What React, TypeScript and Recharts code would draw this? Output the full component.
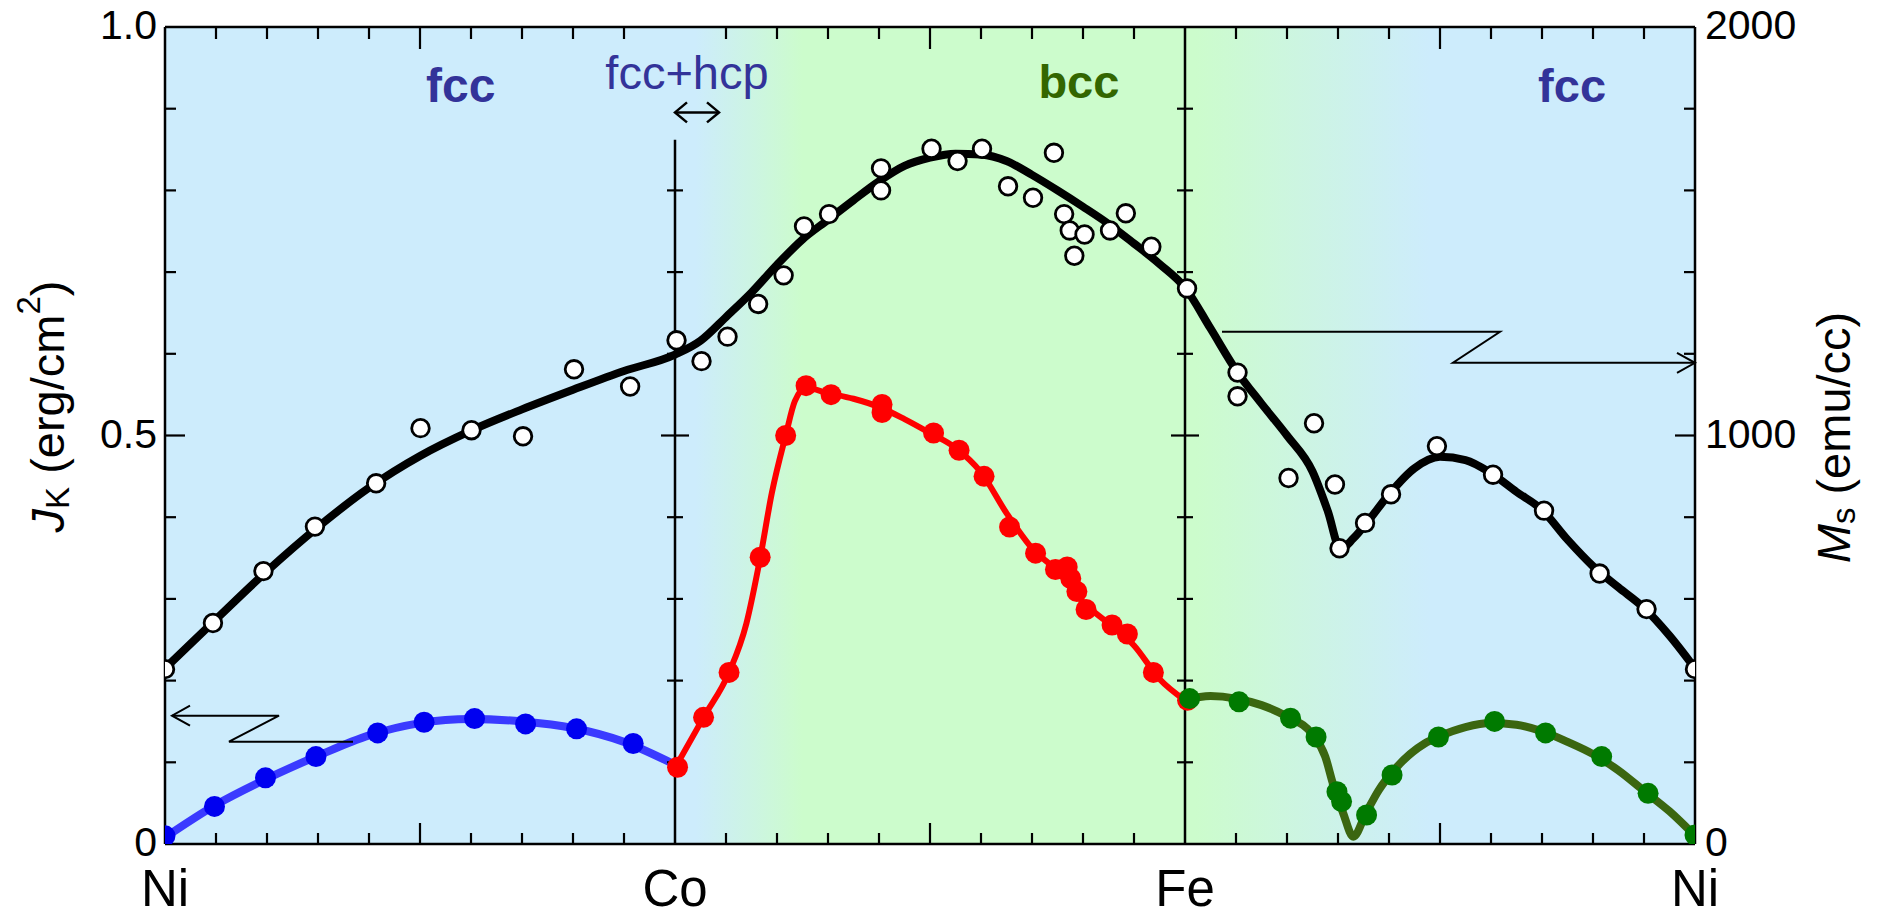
import React from "react";
import {
  ComposedChart,
  Line,
  Scatter,
  XAxis,
  YAxis,
  ReferenceArea,
  ReferenceLine,
  ReferenceDot,
} from "recharts";

const FONT = "'Liberation Sans', Arial, Helvetica, sans-serif";
const BG_BLUE = "#cdecfc";
const BG_GREEN = "#ccfccc";

// composition axis: 0 = Ni, 1 = Co, 2 = Fe, 3 = Ni
const compTicks = [
  0, 0.1, 0.2, 0.3, 0.4, 0.5, 0.6, 0.7, 0.8, 0.9,
  1, 1.1, 1.2, 1.3, 1.4, 1.5, 1.6, 1.7, 1.8, 1.9,
  2, 2.1, 2.2, 2.3, 2.4, 2.5, 2.6, 2.7, 2.8, 2.9, 3,
];
const compLabels = ["Ni", "Co", "Fe", "Ni"];
const jTicks = [0, 0.1, 0.2, 0.3, 0.4, 0.5, 0.6, 0.7, 0.8, 0.9, 1];
const jLabels = ["0", "0.5", "1.0"];
const msTicks = [0, 200, 400, 600, 800, 1000, 1200, 1400, 1600, 1800, 2000];
const msLabels = ["0", "1000", "2000"];
const coCross = [0.1, 0.2, 0.3, 0.4, 0.5, 0.6, 0.7, 0.8];
const feCross = [0.1, 0.2, 0.3, 0.4, 0.5, 0.6, 0.7, 0.8, 0.9];

// Ms (emu/cc), open circles
const msPoints = [
  [0, 428], [0.094, 541], [0.193, 668], [0.294, 777], [0.414, 883], [0.501, 1018],
  [0.601, 1013], [0.702, 998], [0.802, 1162], [0.912, 1120], [1.003, 1233],
  [1.052, 1182], [1.103, 1242], [1.163, 1322], [1.213, 1392], [1.253, 1512],
  [1.302, 1542], [1.404, 1600], [1.404, 1654], [1.503, 1702], [1.554, 1672],
  [1.602, 1702], [1.653, 1610], [1.702, 1582], [1.743, 1692], [1.763, 1542],
  [1.774, 1502], [1.783, 1440], [1.803, 1492], [1.853, 1502], [1.884, 1544],
  [1.934, 1462], [2.004, 1360],
  [2.103, 1154], [2.103, 1096], [2.203, 896], [2.253, 1030], [2.294, 880],
  [2.303, 724], [2.353, 786], [2.404, 856], [2.494, 974], [2.604, 904],
  [2.704, 816], [2.813, 662], [2.905, 575], [3, 428],
];
// Ms guide curve
const msFit = [
  [0, 430], [0.1, 550], [0.2, 668], [0.3, 776], [0.4, 872], [0.5, 950], [0.6, 1012],
  [0.7, 1064], [0.8, 1112], [0.9, 1158], [1, 1198],
  [1.05, 1232], [1.1, 1290], [1.15, 1350], [1.2, 1418], [1.25, 1480], [1.3, 1528],
  [1.35, 1576], [1.4, 1622], [1.45, 1660], [1.5, 1680], [1.55, 1690], [1.6, 1688],
  [1.65, 1672], [1.7, 1638], [1.75, 1600], [1.8, 1560], [1.85, 1518], [1.9, 1470],
  [1.95, 1420], [2, 1362],
  [2.05, 1262], [2.1, 1160], [2.15, 1078], [2.2, 1000], [2.25, 912], [2.28, 815],
  [2.305, 722], [2.33, 748], [2.36, 792], [2.4, 856], [2.45, 920], [2.5, 948],
  [2.55, 940], [2.6, 908], [2.65, 862], [2.7, 818], [2.75, 745], [2.8, 680],
  [2.85, 628], [2.9, 578], [2.95, 510], [3, 430],
];

// JK (erg/cm2), Ni-Co fcc
const jkNiCo = [
  [0, 0.01], [0.097, 0.046], [0.197, 0.081], [0.296, 0.107], [0.417, 0.136],
  [0.508, 0.149], [0.607, 0.1535], [0.707, 0.147], [0.807, 0.141], [0.918, 0.123],
];
const jkNiCoFit = [
  [0, 0.008], [0.1, 0.048], [0.2, 0.08], [0.3, 0.108], [0.4, 0.133], [0.5, 0.148],
  [0.6, 0.153], [0.7, 0.15], [0.8, 0.142], [0.9, 0.125], [1, 0.097],
];
// Co-Fe
const jkCoFe = [
  [1.005, 0.094], [1.056, 0.155], [1.106, 0.21], [1.167, 0.351], [1.217, 0.5],
  [1.257, 0.561], [1.306, 0.55], [1.406, 0.538], [1.406, 0.528], [1.507, 0.503],
  [1.557, 0.482], [1.606, 0.45], [1.656, 0.388], [1.707, 0.356], [1.746, 0.336],
  [1.769, 0.339], [1.776, 0.325], [1.788, 0.309], [1.806, 0.287], [1.857, 0.268],
  [1.887, 0.257], [1.938, 0.21], [2.005, 0.176],
];
const jkCoFeFit = [
  [1, 0.093], [1.056, 0.155], [1.106, 0.21], [1.14, 0.27], [1.167, 0.35],
  [1.19, 0.43], [1.217, 0.5], [1.235, 0.542], [1.257, 0.558], [1.3, 0.552],
  [1.35, 0.545], [1.4, 0.535], [1.45, 0.52], [1.5, 0.503], [1.55, 0.485],
  [1.6, 0.455], [1.65, 0.405], [1.7, 0.362], [1.75, 0.334], [1.8, 0.296],
  [1.85, 0.27], [1.9, 0.243], [1.95, 0.202], [2, 0.176],
];
// Fe-Ni
const jkFeNi = [
  [2.009, 0.178], [2.106, 0.174], [2.207, 0.154], [2.257, 0.131], [2.298, 0.064],
  [2.307, 0.052], [2.356, 0.0355], [2.406, 0.0845], [2.497, 0.131], [2.607, 0.15],
  [2.707, 0.136], [2.817, 0.107], [2.908, 0.062], [3, 0.011],
];
const jkFeNiFit = [
  [2, 0.176], [2.05, 0.181], [2.1, 0.178], [2.15, 0.17], [2.2, 0.156], [2.25, 0.134],
  [2.275, 0.107], [2.29, 0.074], [2.31, 0.038], [2.33, 0.009], [2.355, 0.038],
  [2.38, 0.066], [2.415, 0.094], [2.47, 0.123], [2.5, 0.132], [2.55, 0.143],
  [2.6, 0.148], [2.65, 0.146], [2.7, 0.138], [2.75, 0.125], [2.8, 0.11],
  [2.85, 0.09], [2.9, 0.065], [2.95, 0.04], [3, 0.01],
];

const rows = (a: number[][]) => a.map(([x, v]) => ({ x, v }));

const tenths = (v: number) => Math.round(v * 10);

const BottomTick = (p: any) => {
  const i = tenths(p.payload.value);
  if (i % 10 === 0) {
    return (
      <text x={p.x} y={p.y + 62} textAnchor="middle" fontSize={51} fontFamily={FONT} fill="#000">
        {compLabels[i / 10]}
      </text>
    );
  }
  const len = i % 5 === 0 ? 21 : 11;
  return <line x1={p.x} x2={p.x} y1={p.y} y2={p.y - len} stroke="#000" strokeWidth={2.2} />;
};

const TopTick = (p: any) => {
  const i = tenths(p.payload.value);
  if (i % 10 === 0) return <g />;
  const len = i % 5 === 0 ? 22 : 12;
  return <line x1={p.x} x2={p.x} y1={p.y} y2={p.y + len} stroke="#000" strokeWidth={2.2} />;
};

const LeftTick = (p: any) => {
  const i = tenths(p.payload.value);
  const len = i % 5 === 0 ? 20 : 11;
  const lbl = i % 5 === 0 ? jLabels[i / 5] : null;
  return (
    <g>
      {i > 0 && i < 10 && (
        <line x1={p.x} x2={p.x + len} y1={p.y} y2={p.y} stroke="#000" strokeWidth={2.2} />
      )}
      {lbl && (
        <text x={p.x - 8} y={p.y - 2} textAnchor="end" dominantBaseline="central" fontSize={41} fontFamily={FONT} fill="#000">
          {lbl}
        </text>
      )}
    </g>
  );
};

const RightTick = (p: any) => {
  const i = Math.round(p.payload.value / 200);
  const len = i % 5 === 0 ? 20 : 11;
  const lbl = i % 5 === 0 ? msLabels[i / 5] : null;
  return (
    <g>
      {i > 0 && i < 10 && (
        <line x1={p.x} x2={p.x - len} y1={p.y} y2={p.y} stroke="#000" strokeWidth={2.2} />
      )}
      {lbl && (
        <text x={p.x + 10} y={p.y - 2} textAnchor="start" dominantBaseline="central" fontSize={41} fontFamily={FONT} fill="#000">
          {lbl}
        </text>
      )}
    </g>
  );
};

const crossTick = (half: boolean) => (p: any) => {
  const len = half ? 14 : 8;
  return <line x1={p.cx - len} x2={p.cx + len} y1={p.cy} y2={p.cy} stroke="#000" strokeWidth={2.2} />;
};

const label = (txt: string, size: number, color: string, bold: boolean) => (p: any) => (
  <text x={p.cx} y={p.cy} textAnchor="middle" fontSize={size} fontWeight={bold ? "bold" : "normal"} fontFamily={FONT} fill={color}>
    {txt}
  </text>
);

const doubleArrow = (p: any) => {
  const { cx, cy } = p;
  const w = 44;
  return (
    <g stroke="#000" strokeWidth={2.5} fill="none">
      <line x1={cx} x2={cx + w} y1={cy} y2={cy} />
      <polyline points={`${cx + 12},${cy - 10} ${cx},${cy} ${cx + 12},${cy + 10}`} />
      <polyline points={`${cx + w - 12},${cy - 10} ${cx + w},${cy} ${cx + w - 12},${cy + 10}`} />
    </g>
  );
};

// zig-zag pointer to the left axis, anchored at the axis
const leftPointer = (p: any) => {
  const { cx, cy } = p;
  return (
    <g stroke="#000" strokeWidth={2} fill="none">
      <polyline points={`${cx + 7},${cy} ${cx + 114},${cy} ${cx + 64},${cy + 26} ${cx + 188},${cy + 26}`} />
      <polyline points={`${cx + 25},${cy - 10} ${cx + 7},${cy} ${cx + 25},${cy + 10}`} />
    </g>
  );
};

// zig-zag pointer to the right axis, anchored at the axis
const rightPointer = (p: any) => {
  const { cx, cy } = p;
  return (
    <g stroke="#000" strokeWidth={2} fill="none">
      <polyline points={`${cx - 473},${cy - 31} ${cx - 195},${cy - 31} ${cx - 242},${cy} ${cx},${cy}`} />
      <polyline points={`${cx - 18},${cy - 10} ${cx},${cy} ${cx - 18},${cy + 10}`} />
    </g>
  );
};

const openCircle = (p: any) => (
  <circle cx={p.cx} cy={p.cy} r={8.8} fill="#fff" stroke="#000" strokeWidth={2.8} />
);
const filled = (color: string) => (p: any) => (
  <circle cx={p.cx} cy={p.cy} r={10.5} fill={color} stroke="none" />
);

const leftTitle = (lp: any) => {
  const vb = lp.viewBox;
  const cx = vb.x + vb.width - 118;
  const cy = vb.y + vb.height / 2 - 29;
  return (
    <text transform={`translate(${cx},${cy}) rotate(-90)`} textAnchor="middle" dominantBaseline="central" fontSize={47} fontFamily={FONT} fill="#000">
      <tspan fontStyle="italic">J</tspan>
      <tspan fontSize={33} dy={10}>K</tspan>
      <tspan dy={-10}>{" (erg/cm"}</tspan>
      <tspan fontSize={33} dy={-19}>2</tspan>
      <tspan dy={19}>)</tspan>
    </text>
  );
};

const rightTitle = (lp: any) => {
  const vb = lp.viewBox;
  const cx = vb.x + 138;
  const cy = vb.y + vb.height / 2 + 2;
  return (
    <text transform={`translate(${cx},${cy}) rotate(-90)`} textAnchor="middle" dominantBaseline="central" fontSize={47} fontFamily={FONT} fill="#000">
      <tspan fontStyle="italic">M</tspan>
      <tspan fontSize={33} dy={10}>s</tspan>
      <tspan dy={-10}>{" (emu/cc)"}</tspan>
    </text>
  );
};

export default function App() {
  return (
    <div style={{ position: "absolute", left: 0, top: 0, background: "#fff" }}>
      <ComposedChart width={1879} height={917} margin={{ top: 0, right: 0, bottom: 0, left: 0 }}>
        <defs>
          <linearGradient id="phaseBg" x1="0" y1="0" x2="1" y2="0">
            <stop offset={0} stopColor={BG_BLUE} />
            <stop offset={1.04 / 3} stopColor={BG_BLUE} />
            <stop offset={1.25 / 3} stopColor={BG_GREEN} />
            <stop offset={2.02 / 3} stopColor={BG_GREEN} />
            <stop offset={2.48 / 3} stopColor={BG_BLUE} />
            <stop offset={1} stopColor={BG_BLUE} />
          </linearGradient>
        </defs>
        <XAxis
          xAxisId="b" type="number" dataKey="x" domain={[0, 3]} allowDataOverflow
          ticks={compTicks} interval={0} height={73} tickSize={0} tickMargin={0}
          tickLine={false} tick={BottomTick} axisLine={{ stroke: "#000", strokeWidth: 2.5 }}
        />
        <XAxis
          xAxisId="t" orientation="top" type="number" dataKey="x" domain={[0, 3]} allowDataOverflow
          ticks={compTicks} interval={0} height={27} tickSize={0} tickMargin={0}
          tickLine={false} tick={TopTick} axisLine={{ stroke: "#000", strokeWidth: 2.5 }}
        />
        <YAxis
          yAxisId="j" type="number" domain={[0, 1]} allowDataOverflow ticks={jTicks} interval={0}
          width={165} tickSize={0} tickMargin={0} tickLine={false} tick={LeftTick}
          axisLine={{ stroke: "#000", strokeWidth: 2.5 }} label={{ content: leftTitle }}
        />
        <YAxis
          yAxisId="ms" orientation="right" type="number" domain={[0, 2000]} allowDataOverflow
          ticks={msTicks} interval={0} width={184} tickSize={0} tickMargin={0} tickLine={false}
          tick={RightTick} axisLine={{ stroke: "#000", strokeWidth: 2.5 }} label={{ content: rightTitle }}
        />

        <ReferenceArea xAxisId="b" yAxisId="j" x1={0} x2={3} y1={0} y2={1} fill="url(#phaseBg)" fillOpacity={1} stroke="none" />
        <ReferenceLine xAxisId="b" yAxisId="j" segment={[{ x: 1, y: 0 }, { x: 1, y: 0.862 }]} stroke="#000" strokeWidth={2.5} />
        <ReferenceLine xAxisId="b" yAxisId="j" x={2} stroke="#000" strokeWidth={2.5} />
        {coCross.map((y) => (
          <ReferenceDot key={`co${y}`} xAxisId="b" yAxisId="j" x={1} y={y} shape={crossTick(tenths(y) === 5)} />
        ))}
        {feCross.map((y) => (
          <ReferenceDot key={`fe${y}`} xAxisId="b" yAxisId="j" x={2} y={y} shape={crossTick(tenths(y) === 5)} />
        ))}

        <ReferenceDot xAxisId="b" yAxisId="j" x={0.58} y={0.908} shape={label("fcc", 48, "#333399", true)} />
        <ReferenceDot xAxisId="b" yAxisId="j" x={1.0235} y={0.924} shape={label("fcc+hcp", 47, "#333399", false)} />
        <ReferenceDot xAxisId="b" yAxisId="j" x={1.792} y={0.913} shape={label("bcc", 47, "#336600", true)} />
        <ReferenceDot xAxisId="b" yAxisId="j" x={2.759} y={0.908} shape={label("fcc", 47, "#333399", true)} />
        <ReferenceDot xAxisId="b" yAxisId="j" x={1} y={0.8955} shape={doubleArrow} />
        <ReferenceDot xAxisId="b" yAxisId="j" x={0} y={0.157} shape={leftPointer} />
        <ReferenceDot xAxisId="b" yAxisId="ms" x={3} y={1178} shape={rightPointer} />

        <Line xAxisId="b" yAxisId="ms" data={rows(msFit)} dataKey="v" type="monotone" stroke="#000" strokeWidth={8} dot={false} isAnimationActive={false} />
        <Scatter xAxisId="b" yAxisId="ms" data={rows(msPoints)} dataKey="v" shape={openCircle} isAnimationActive={false} />

        <Scatter xAxisId="b" yAxisId="j" data={rows(jkNiCo)} dataKey="v" shape={filled("#0000f0")} isAnimationActive={false} />
        <Line xAxisId="b" yAxisId="j" data={rows(jkNiCoFit)} dataKey="v" type="monotone" stroke="#3a3aff" strokeWidth={8} dot={false} isAnimationActive={false} />

        <Line xAxisId="b" yAxisId="j" data={rows(jkCoFeFit)} dataKey="v" type="monotone" stroke="#ff0000" strokeWidth={6} dot={false} isAnimationActive={false} />
        <Scatter xAxisId="b" yAxisId="j" data={rows(jkCoFe)} dataKey="v" shape={filled("#ff0000")} isAnimationActive={false} />

        <Scatter xAxisId="b" yAxisId="j" data={rows(jkFeNi)} dataKey="v" shape={filled("#007a00")} isAnimationActive={false} />
        <Line xAxisId="b" yAxisId="j" data={rows(jkFeNiFit)} dataKey="v" type="monotone" stroke="#3b6610" strokeWidth={8} dot={false} isAnimationActive={false} />
      </ComposedChart>
    </div>
  );
}
